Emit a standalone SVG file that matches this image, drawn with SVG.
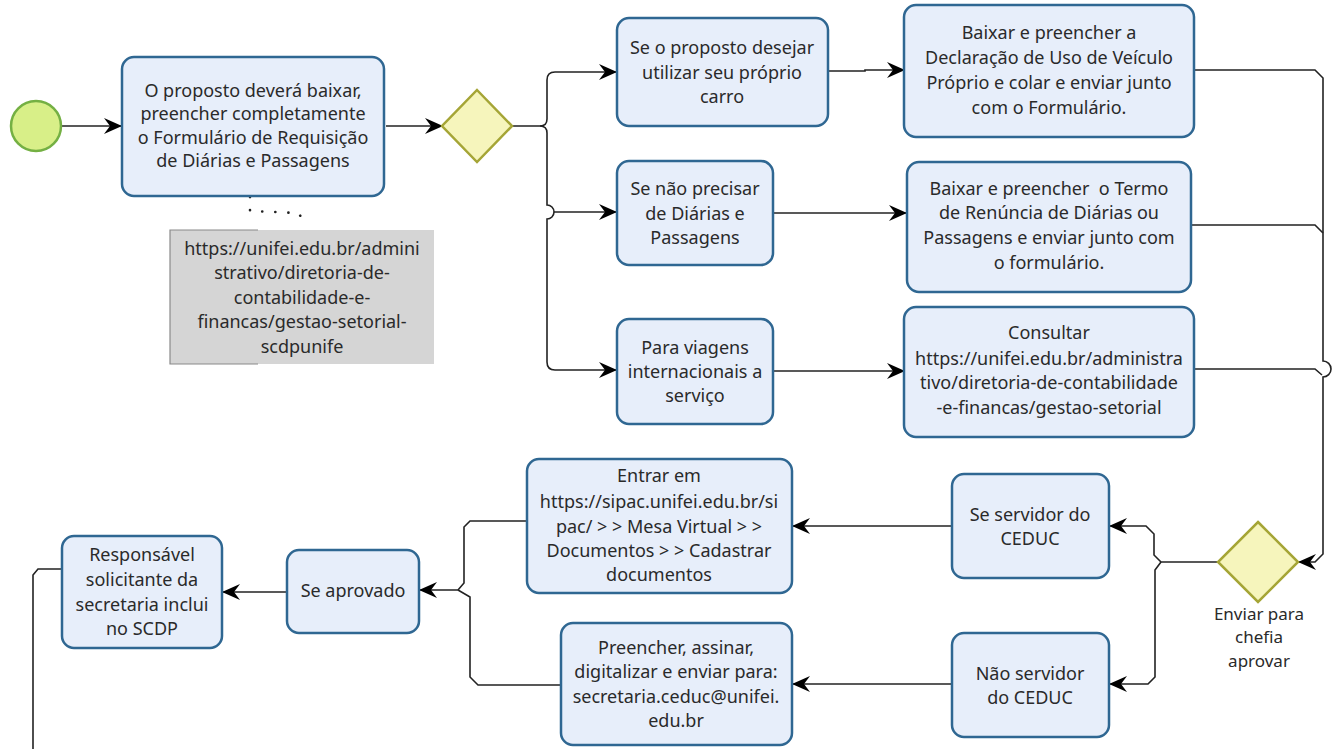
<svg xmlns="http://www.w3.org/2000/svg" width="1339" height="749" viewBox="0 0 1339 749">
<style>
.box{fill:#e7eefa;stroke:#2f6792;stroke-width:2.5}
.t{font-family:"Noto Sans","Open Sans",sans-serif;font-size:18px;fill:#2a2a2a;text-anchor:middle}
.gw{fill:#f6f5bc;stroke:#a5a536;stroke-width:2.5}
.c{fill:none;stroke:#222;stroke-width:1.6}
.ca{fill:none;stroke:#222;stroke-width:1.6;marker-end:url(#arr)}
</style>
<defs>
<marker id="arr" viewBox="0 0 18 16" refX="17" refY="8" markerWidth="18" markerHeight="16" orient="auto" markerUnits="userSpaceOnUse">
<path d="M0,0 L18,8 L0,16 L6,8 z" fill="#000"/>
</marker>
</defs>
<rect width="1339" height="749" fill="#fff"/>

<g id="connectors">
<path class="ca" d="M62,126 H121"/>
<path class="ca" d="M386,126 H442"/>
<path class="ca" d="M512,126 H540 Q547,126 547,119 V80 Q547,72 555,72 H616"/>
<path class="ca" d="M540,126 Q547,126 547,133 V205 A7,7 0 0 1 547,219 V362 Q547,370 555,370 H616"/>
<path class="ca" d="M554,212 H616"/>
<path class="ca" d="M828,71 H865 V70 H904"/>
<path class="ca" d="M773,213 H906"/>
<path class="ca" d="M773,371 H904"/>
<path class="ca" d="M1194,70 H1315 L1323,78 V361 A8,8 0 0 1 1323,377 V554 L1315,562 H1299"/>
<path class="c" d="M1191,225 H1315 L1323,233"/>
<path class="c" d="M1194,369 H1315 L1322,375"/>
<path class="ca" d="M1218,562 H1161 L1154,555 V534 L1146,526 H1110"/>
<path class="ca" d="M1161,562 L1155,570 V677 L1148,684 H1110"/>
<path class="ca" d="M952,526 H793"/>
<path class="ca" d="M952,684 H793"/>
<path class="ca" d="M527,521 H470 L464,527 V583 L458,590 H420"/>
<path class="c" d="M561,685 H478 L470,677 V597 L458,590"/>
<path class="ca" d="M287,592 H223"/>
<path class="c" d="M62,569 H38 L33,575 V749"/>
<path d="M250,197 L250,211 L298,213 L303,219" fill="none" stroke="#222" stroke-width="2.6" stroke-linecap="round" stroke-dasharray="0.1 13"/>
</g>

<g id="start">
<circle cx="36" cy="126" r="25" fill="#d8ef88" stroke="#74b043" stroke-width="2.5"/>
</g>

<g id="task-formulario">
<rect class="box" x="122" y="57" width="262" height="139" rx="12"/>
<text class="t"><tspan x="253" y="97">O proposto deverá baixar,</tspan><tspan x="253" y="120">preencher completamente</tspan><tspan x="253" y="144">o Formulário de Requisição</tspan><tspan x="253" y="167">de Diárias e Passagens</tspan></text>
</g>

<g id="note-link">
<rect x="170" y="230" width="264" height="134" fill="#d5d5d5"/>
<path d="M258,230 H170 V364 H258" fill="none" stroke="#8a8a8a" stroke-width="1.2"/>
<text class="t"><tspan x="302" y="255">https://unifei.edu.br/admini</tspan><tspan x="302" y="279">strativo/diretoria-de-</tspan><tspan x="302" y="304">contabilidade-e-</tspan><tspan x="302" y="328">financas/gestao-setorial-</tspan><tspan x="302" y="353">scdpunife</tspan></text>
</g>

<g id="gateway-1">
<polygon class="gw" points="477,90 512,126 477,162 442,126"/>
</g>

<g id="cond-carro">
<rect class="box" x="617" y="18" width="211" height="108" rx="12"/>
<text class="t"><tspan x="722" y="54">Se o proposto desejar</tspan><tspan x="722" y="79">utilizar seu próprio</tspan><tspan x="722" y="103">carro</tspan></text>
</g>

<g id="cond-nao-precisar">
<rect class="box" x="617" y="161" width="156" height="104" rx="12"/>
<text class="t"><tspan x="695" y="195">Se não precisar</tspan><tspan x="695" y="220">de Diárias e</tspan><tspan x="695" y="244">Passagens</tspan></text>
</g>

<g id="cond-internacional">
<rect class="box" x="617" y="319" width="156" height="105" rx="12"/>
<text class="t"><tspan x="695" y="354">Para viagens</tspan><tspan x="695" y="378">internacionais a</tspan><tspan x="695" y="402">serviço</tspan></text>
</g>

<g id="task-declaracao">
<rect class="box" x="904" y="5" width="290" height="132" rx="12"/>
<text class="t"><tspan x="1049" y="39">Baixar e preencher a</tspan><tspan x="1049" y="64">Declaração de Uso de Veículo</tspan><tspan x="1049" y="89">Próprio e colar e enviar junto</tspan><tspan x="1049" y="114">com o Formulário.</tspan></text>
</g>

<g id="task-termo">
<rect class="box" x="907" y="162" width="284" height="130" rx="12"/>
<text class="t"><tspan x="1049" y="195">Baixar e preencher &#160;o Termo</tspan><tspan x="1049" y="219">de Renúncia de Diárias ou</tspan><tspan x="1049" y="244">Passagens e enviar junto com</tspan><tspan x="1049" y="269">o formulário.</tspan></text>
</g>

<g id="task-consultar">
<rect class="box" x="904" y="307" width="290" height="130" rx="12"/>
<text class="t"><tspan x="1049" y="339">Consultar</tspan><tspan x="1049" y="365">https://unifei.edu.br/administra</tspan><tspan x="1049" y="389">tivo/diretoria-de-contabilidade</tspan><tspan x="1049" y="414">-e-financas/gestao-setorial</tspan></text>
</g>

<g id="gateway-2">
<polygon class="gw" points="1258,522 1298,562 1258,602 1218,562"/>
<text class="t" style="font-size:17px"><tspan x="1259" y="620">Enviar para</tspan><tspan x="1259" y="643">chefia</tspan><tspan x="1259" y="667">aprovar</tspan></text>
</g>

<g id="cond-servidor">
<rect class="box" x="952" y="474" width="157" height="104" rx="12"/>
<text class="t"><tspan x="1030" y="521">Se servidor do</tspan><tspan x="1030" y="545">CEDUC</tspan></text>
</g>

<g id="cond-nao-servidor">
<rect class="box" x="952" y="633" width="157" height="104" rx="12"/>
<text class="t"><tspan x="1030" y="680">Não servidor</tspan><tspan x="1030" y="704">do CEDUC</tspan></text>
</g>

<g id="task-sipac">
<rect class="box" x="527" y="459" width="265" height="134" rx="12"/>
<text class="t"><tspan x="659" y="482">Entrar em</tspan><tspan x="659" y="508">https://sipac.unifei.edu.br/si</tspan><tspan x="659" y="533">pac/ &gt; &gt; Mesa Virtual &gt; &gt;</tspan><tspan x="659" y="557">Documentos &gt; &gt; Cadastrar</tspan><tspan x="659" y="581">documentos</tspan></text>
</g>

<g id="task-email">
<rect class="box" x="561" y="623" width="231" height="122" rx="12"/>
<text class="t"><tspan x="676" y="654">Preencher, assinar,</tspan><tspan x="676" y="678">digitalizar e enviar para:</tspan><tspan x="676" y="703">secretaria.ceduc@unifei.</tspan><tspan x="676" y="727">edu.br</tspan></text>
</g>

<g id="cond-aprovado">
<rect class="box" x="287" y="550" width="132" height="83" rx="12"/>
<text class="t"><tspan x="353" y="597">Se aprovado</tspan></text>
</g>

<g id="task-scdp">
<rect class="box" x="62" y="536" width="160" height="112" rx="12"/>
<text class="t"><tspan x="142" y="561">Responsável</tspan><tspan x="142" y="586">solicitante da</tspan><tspan x="142" y="611">secretaria inclui</tspan><tspan x="142" y="635">no SCDP</tspan></text>
</g>
</svg>
